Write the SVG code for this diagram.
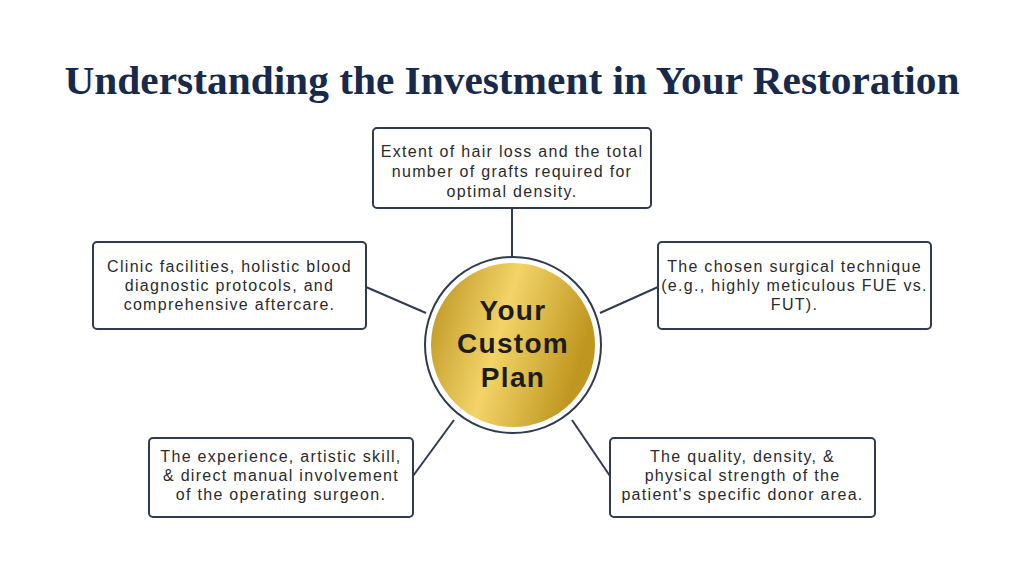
<svg xmlns="http://www.w3.org/2000/svg" width="1024" height="576" viewBox="0 0 1024 576">
  <defs>
    <linearGradient id="gold" x1="0" y1="0" x2="1" y2="0.3">
      <stop offset="0" stop-color="#b8901c"/>
      <stop offset="0.5" stop-color="#f3d468"/>
      <stop offset="1" stop-color="#bf961f"/>
    </linearGradient>
    <style>
      .box { fill: #ffffff; stroke: #2f3b4f; stroke-width: 2; }
      .txt { font-family: "Liberation Sans", "Noto Sans", sans-serif; font-size: 16px; fill: #2b2b2b; text-anchor: middle; letter-spacing: 1.3px; }
      .conn { stroke: #2f3b4f; stroke-width: 2; fill: none; }
      .title { font-family: "Liberation Serif", serif; font-weight: bold; font-size: 40px; fill: #172a4b; text-anchor: middle; }
      .center { font-family: "Liberation Sans", "Noto Sans", sans-serif; font-weight: bold; font-size: 28px; fill: #1c1c1c; text-anchor: middle; letter-spacing: 1.3px; }
    </style>
  </defs>
  <rect width="1024" height="576" fill="#ffffff"/>
  <text class="title" x="512" y="94" textLength="895" lengthAdjust="spacingAndGlyphs">Understanding the Investment in Your Restoration</text>

  <g id="connectors">
    <line class="conn" x1="512" y1="208" x2="512" y2="258"/>
    <line class="conn" x1="366" y1="287" x2="426" y2="313"/>
    <line class="conn" x1="658" y1="287" x2="600" y2="313"/>
    <line class="conn" x1="413" y1="476" x2="454" y2="420"/>
    <line class="conn" x1="610" y1="476" x2="572" y2="420"/>
  </g>

  <g id="center">
    <circle cx="513" cy="345" r="88" fill="#ffffff" stroke="#2f3b4f" stroke-width="2"/>
    <circle cx="513" cy="345" r="82" fill="url(#gold)"/>
    <text class="center" x="513" y="320">Your</text>
    <text class="center" x="513" y="353">Custom</text>
    <text class="center" x="513" y="387">Plan</text>
  </g>

  <g id="node-top">
    <rect class="box" x="373" y="128" width="278" height="80" rx="4"/>
    <text class="txt" x="512" y="157">Extent of hair loss and the total</text>
    <text class="txt" x="512" y="177">number of grafts required for</text>
    <text class="txt" x="512" y="197">optimal density.</text>
  </g>

  <g id="node-left">
    <rect class="box" x="93" y="242" width="273" height="87" rx="4"/>
    <text class="txt" x="229.5" y="272">Clinic facilities, holistic blood</text>
    <text class="txt" x="229.5" y="291">diagnostic protocols, and</text>
    <text class="txt" x="229.5" y="310">comprehensive aftercare.</text>
  </g>

  <g id="node-right">
    <rect class="box" x="658" y="242" width="273" height="87" rx="4"/>
    <text class="txt" x="794.5" y="272">The chosen surgical technique</text>
    <text class="txt" x="794.5" y="291">(e.g., highly meticulous FUE vs.</text>
    <text class="txt" x="794.5" y="310">FUT).</text>
  </g>

  <g id="node-bottom-left">
    <rect class="box" x="149" y="438" width="264" height="79" rx="4"/>
    <text class="txt" x="281" y="462">The experience, artistic skill,</text>
    <text class="txt" x="281" y="481">&amp; direct manual involvement</text>
    <text class="txt" x="281" y="500">of the operating surgeon.</text>
  </g>

  <g id="node-bottom-right">
    <rect class="box" x="610" y="438" width="265" height="79" rx="4"/>
    <text class="txt" x="742.5" y="462">The quality, density, &amp;</text>
    <text class="txt" x="742.5" y="481">physical strength of the</text>
    <text class="txt" x="742.5" y="500">patient's specific donor area.</text>
  </g>
</svg>
